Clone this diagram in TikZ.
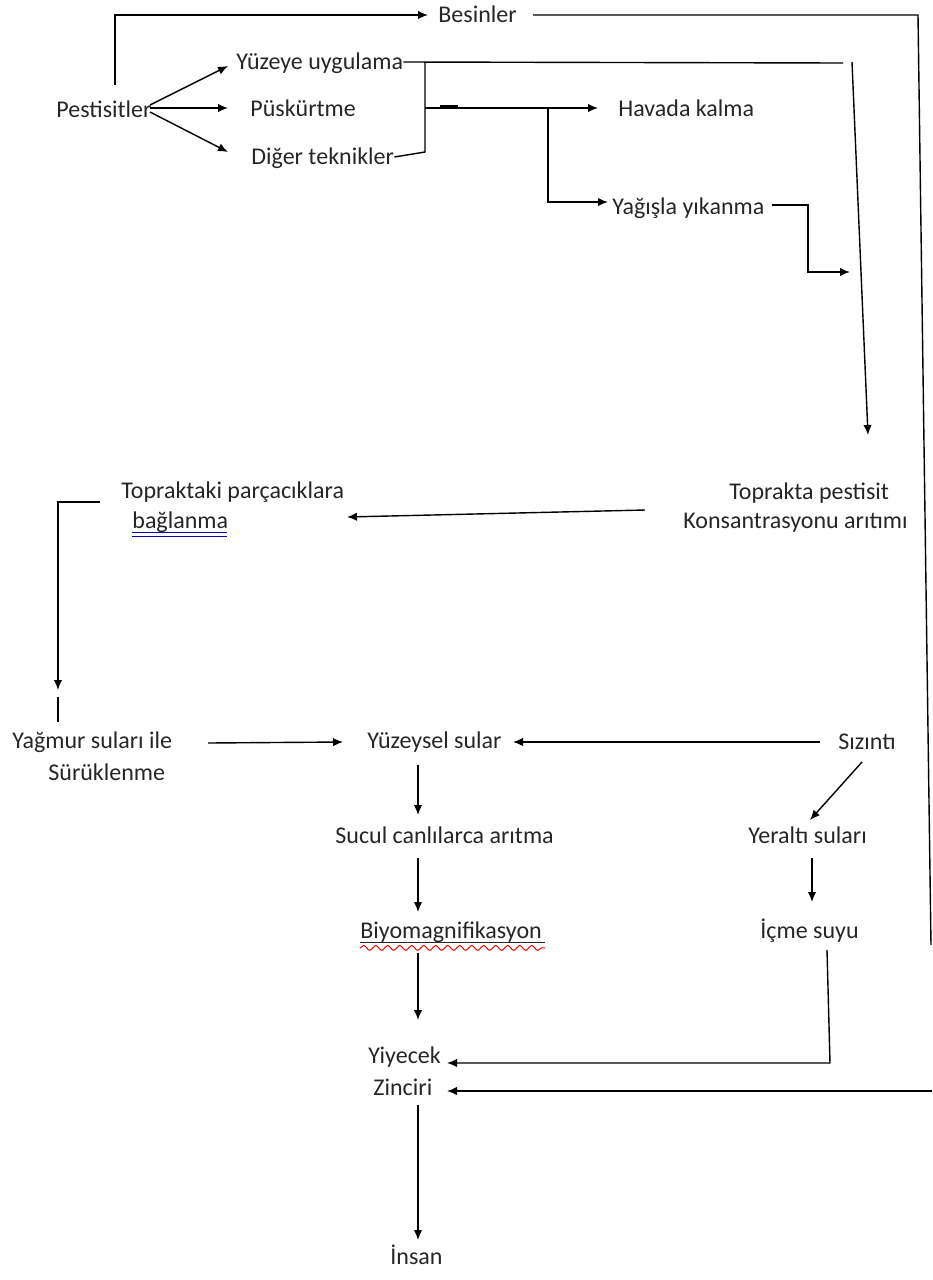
\documentclass[tikz,border=0pt]{standalone}
\usepackage{fontspec}
\setmainfont{Carlito}
\usetikzlibrary{arrows.meta,decorations.pathmorphing}
\begin{document}
\begin{tikzpicture}[x=0.5pt,y=-0.5pt,
  lab/.style={inner sep=0pt,anchor=west,font=\fontsize{12pt}{14pt}\selectfont,text height=8pt,text depth=0.5pt,text=black!85},
  ln/.style={line width=0.7pt,black},
  arr/.style={ln,-{Latex[length=5pt,width=4.2pt]}}]
\useasboundingbox (0,0) rectangle (932,1280);
% nodes
\node[lab] (pest) at (56,110) {Pestisitler};
\node[lab] (bes) at (438,15) {Besinler};
\node[lab] (yuz) at (236,62) {Yüzeye uygulama};
\node[lab] (pusk) at (250,109) {Püskürtme};
\node[lab] (diger) at (251,157) {Diğer teknikler};
\node[lab] (hava) at (618,109) {Havada kalma};
\node[lab] (yagis) at (612,207) {Yağışla yıkanma};
\node[lab] (tpa1) at (729,492) {Toprakta pestisit};
\node[lab] (tpa2) at (683,521) {Konsantrasyonu arıtımı};
\node[lab] (tpb1) at (121,491) {Topraktaki parçacıklara};
\node[lab] (tpb2) at (132,521) {bağlanma};
\node[lab] (yag1) at (12,741) {Yağmur suları ile};
\node[lab] (yag2) at (48,773) {Sürüklenme};
\node[lab] (ys) at (367,741) {Yüzeysel sular};
\node[lab] (siz) at (838,742) {Sızıntı};
\node[lab] (sucul) at (335,836) {Sucul canlılarca arıtma};
\node[lab] (yer) at (748,836) {Yeraltı suları};
\node[lab] (biyo) at (360,931) {Biyomagnifikasyon};
\node[lab] (icme) at (760,931) {İçme suyu};
\node[lab] (yiy1) at (368,1056) {Yiyecek};
\node[lab] (yiy2) at (373,1088) {Zinciri};
\node[lab] (insan) at (390,1257) {İnsan};
% underlines
\draw[blue!70!black,line width=0.5pt] (tpb2.south west)++(0,3) -- ++(95,0);
\draw[blue!70!black,line width=0.5pt] (tpb2.south west)++(0,6.5) -- ++(95,0);
\draw[black!85,line width=0.5pt] (biyo.south west)++(0,3) -- ++(185,0);
\draw[red,line width=0.5pt,decorate,decoration={snake,segment length=6,amplitude=1.2}] (biyo.south west)++(0,8) -- ++(185,0);
% coordinates
\coordinate (c1) at (115,85);
\coordinate (c2) at (115,15);
\coordinate (c3) at (918,15);
\coordinate (c4) at (931,945);
\coordinate (c5) at (932,1091);
\coordinate (c6) at (843,63);
\coordinate (c7) at (852,62);
\coordinate (c8) at (868,435);
\coordinate (b1) at (425,63);
\coordinate (b2) at (425,152);
\coordinate (b3) at (425,108);
\coordinate (b4) at (548,108);
\coordinate (b5) at (548,202);
\coordinate (y1) at (808,205);
\coordinate (y2) at (808,272);
\coordinate (y3) at (850,272);
\coordinate (t1) at (58,502);
\coordinate (t2) at (58,690);
\coordinate (t3) at (58,697);
\coordinate (t4) at (58,722);
\coordinate (i1) at (830,1063);
\coordinate (z1) at (447,1091);
% connectors
\draw[arr] (c1) -- (c2) -- (428,15);
\draw[ln] (bes.east) ++(16,0) -- (c3) -- (c4);
\draw[arr] (c5) -- (z1);
\draw[arr] (150,105) -- (228,66);
\draw[arr] (150,108) -- (228,108);
\draw[arr] (150,112) -- (228,152);
\draw[ln] (yuz.east) -- (c6);
\draw[arr] (c7) -- (c8);
\draw[ln] (b1) -- (b2) -- (diger.east);
\draw[arr] (b3) -- (598,108);
\draw[line width=1.6pt] (440,107) -- (458,107);
\draw[arr] (b4) -- (b5) -- (608,202);
\draw[arr] (yagis.east) ++(7,-2) -- (y1) -- (y2) -- (y3);
\draw[arr] (645,510) -- (347,517);
\draw[arr] (100,502) -- (t1) -- (t2);
\draw[ln] (t3) -- (t4);
\draw[arr] (208,743) -- (343,742);
\draw[arr] (820,742) -- (513,742);
\draw[arr] (862,762) -- (810,820);
\draw[arr] (812,858) -- (812,902);
\draw[arr] (418,765) -- (418,815);
\draw[arr] (418,858) -- (418,912);
\draw[arr] (418,953) -- (418,1020);
\draw[arr] (827,950) -- (i1) -- (447,1063);
\draw[arr] (418,1105) -- (418,1240);
\end{tikzpicture}
\end{document}
